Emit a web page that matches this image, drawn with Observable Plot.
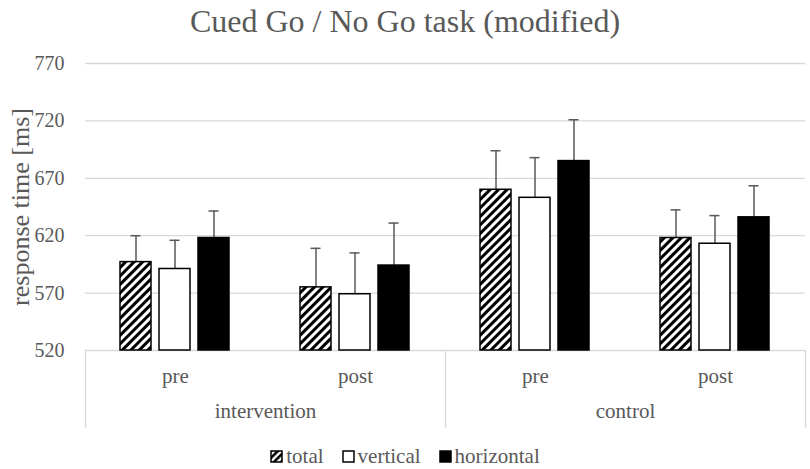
<!DOCTYPE html>
<html><head><meta charset="utf-8">
<script src="https://cdn.jsdelivr.net/npm/d3@7"></script>
<script src="https://cdn.jsdelivr.net/npm/@observablehq/plot@0.6"></script>
<style>
body{margin:0;background:#fff;font-family:"Liberation Serif","Times New Roman",serif;}
#wrap{width:810px;height:469px;overflow:hidden;position:relative}
#title{height:44px;line-height:42px;text-align:center;font-size:32px;color:#595959;white-space:nowrap}
#chart{height:400px}
#legend{display:flex;justify-content:center;align-items:center;height:25px;font-size:21px;color:#595959;}
.item{display:flex;align-items:center;margin:0 9px}
.item svg{margin-right:3px}
</style></head><body>
<div id="wrap"><div id="title">Cued Go / No Go task (modified)</div><div id="chart"></div><div id="legend"></div></div>
<script>
const groups = ["intervention", "control"];
const phases = ["pre", "post"];
const series = ["total", "vertical", "horizontal"];
// order: intervention pre, intervention post, control pre, control post
const totalMean = [597, 575, 660, 618];
const verticalMean = [591, 569, 653, 613];
const horizontalMean = [618, 594, 685, 636];
const totalErr = [23, 34, 34, 24.5];
const verticalErr = [25, 36, 35, 24.5];
const horizontalErr = [23.5, 37, 36, 27.5];
const yTicks = [520, 570, 620, 670, 720, 770];
const yLabel = "response time [ms]";

const means = {total: totalMean, vertical: verticalMean, horizontal: horizontalMean};
const errs = {total: totalErr, vertical: verticalErr, horizontal: horizontalErr};
const cells = [];
groups.forEach(g => phases.forEach(p => cells.push({key: g + "|" + p, group: g, phase: p})));
const keys = cells.map(c => c.key);
const rows = [];
cells.forEach((c, i) => series.forEach(s => rows.push({key: c.key, series: s, mean: means[s][i], err: errs[s][i]})));

const yMin = yTicks[0], yMax = yTicks[yTicks.length - 1];
const fills = ["url(#hatch)", "white", "black"];
const grid = "#d9d9d9";
const textCol = "#595959";

const boxLine = {insetTop: 287, insetBottom: -77, stroke: grid, strokeWidth: 1.3};

const plot = Plot.plot({
  width: 810, height: 400,
  marginTop: 19, marginBottom: 94, marginLeft: 83, marginRight: 4,
  style: {fontFamily: "Liberation Serif, Times New Roman, serif", background: "white", overflow: "visible"},
  fx: {domain: keys, padding: 0, axis: null, label: null},
  x: {domain: series, paddingInner: 0.2, paddingOuter: 0.859, axis: null},
  y: {domain: [yMin, yMax], axis: null},
  color: {domain: series, range: fills},
  marks: [
    Plot.gridY(yTicks.slice(1), {stroke: grid, strokeOpacity: 1, strokeWidth: 1.3}),
    Plot.ruleY([yMin], {stroke: grid, strokeWidth: 1.3}),
    Plot.axisY(yTicks, {tickSize: 0, tickPadding: 21, fontSize: 20, fill: textCol, label: null}),
    Plot.text([yLabel], {fx: () => keys[0], frameAnchor: "left", textAnchor: "middle", rotate: -90, dx: -65, text: d => d, fontSize: 26, fill: textCol}),
    Plot.ruleX(rows, {fx: "key", x: "series", y1: "mean", y2: d => d.mean + d.err, stroke: textCol, strokeWidth: 1.5}),
    Plot.tickY(rows, {fx: "key", x: "series", y: d => d.mean + d.err, stroke: textCol, strokeWidth: 1.5, insetLeft: 10.5, insetRight: 10.5}),
    Plot.barY(rows, {fx: "key", x: "series", y1: yMin, y2: "mean", fill: "series", stroke: "black", strokeWidth: 1.5}),
    Plot.text(cells, {fx: "key", text: "phase", frameAnchor: "bottom", dy: 32, fontSize: 21, fill: textCol}),
    Plot.text(groups, {fx: g => g + "|pre", text: d => d, frameAnchor: "bottom-right", textAnchor: "middle", dy: 67, fontSize: 21, fill: textCol}),
    Plot.frame({anchor: "left", fx: () => keys[0], ...boxLine}),
    Plot.frame({anchor: "left", fx: () => keys[2], ...boxLine}),
    Plot.frame({anchor: "right", fx: () => keys[3], ...boxLine})
  ]
});

const hatchDef = (id, w, s) => `<pattern id="${id}" patternUnits="userSpaceOnUse" width="${w}" height="${w}" patternTransform="rotate(45)"><rect width="${w}" height="${w}" fill="white"/><rect width="${s}" height="${w}" fill="black"/></pattern>`;
d3.select(plot).insert("defs", ":first-child").html(hatchDef("hatch", 6, 3));
document.getElementById("chart").appendChild(plot);

const legend = document.getElementById("legend");
series.forEach((s, i) => {
  const item = document.createElement("div");
  item.className = "item";
  const fill = i === 0 ? "url(#hatchL)" : fills[i];
  item.innerHTML = `<svg width="13" height="13">${i === 0 ? `<defs>${hatchDef("hatchL", 5, 2.6)}</defs>` : ""}<rect x="1" y="1" width="11" height="11" fill="${fill}" stroke="black" stroke-width="1.5"/></svg><span>${s}</span>`;
  legend.appendChild(item);
});
</script>
</body></html>
